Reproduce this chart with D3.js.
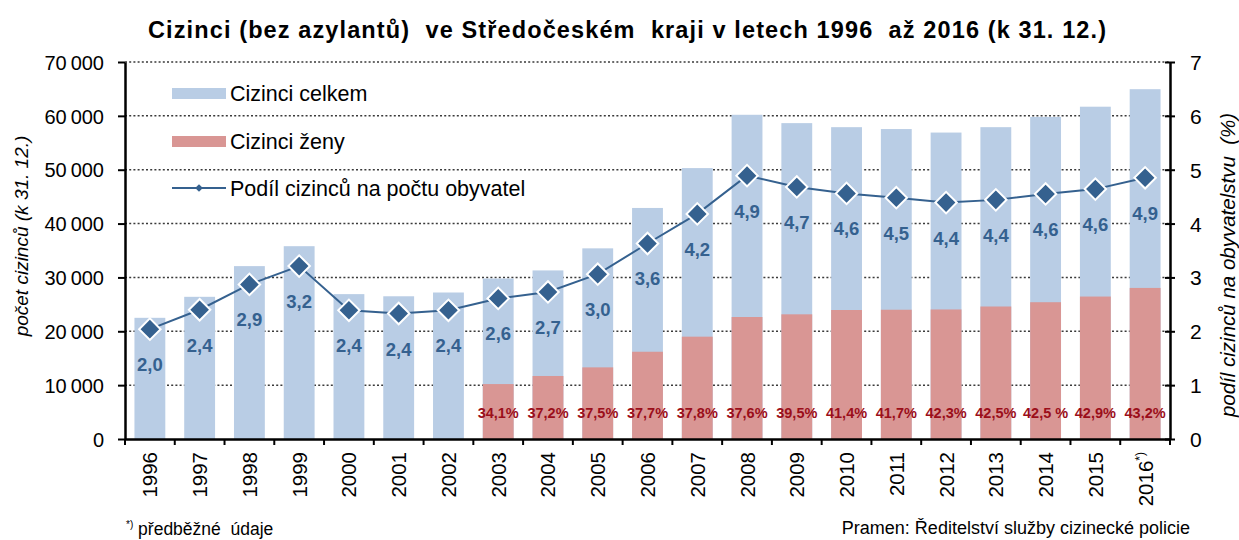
<!DOCTYPE html>
<html>
	<head>
		<meta charset="utf-8">
		<title>Cizinci ve Středočeském kraji</title>
		<script src="https://cdn.jsdelivr.net/npm/d3@7"></script>
		<style>
			body { margin: 0; background: #fff; }
			text { font-family: "Liberation Sans", Arial, sans-serif; white-space: pre; }
		</style>
	</head>
	<body>
		<div id='viz'></div>
		<script>
			var width = 1239,
				height = 540;
			// data
			var years = ['1996','1997','1998','1999','2000','2001','2002','2003','2004','2005','2006',
				'2007','2008','2009','2010','2011','2012','2013','2014','2015','2016'];
			var total = [22500, 26400, 32100, 35800, 26900, 26500, 27200, 29800, 31300, 35400, 42900,
				50300, 60200, 58650, 57900, 57550, 56900, 57900, 59800, 61700, 64950];
			var women = [null, null, null, null, null, null, null, 10200, 11700, 13300, 16200,
				19000, 22650, 23150, 23950, 24000, 24050, 24600, 25400, 26450, 28050];
			var womenPct = ['', '', '', '', '', '', '', '34,1%', '37,2%', '37,5%', '37,7%',
				'37,8%', '37,6%', '39,5%', '41,4%', '41,7%', '42,3%', '42,5%', '42,5 %', '42,9%', '43,2%'];
			var share = [2.04, 2.40, 2.87, 3.21, 2.39, 2.33, 2.39, 2.61, 2.73, 3.06, 3.63,
				4.18, 4.89, 4.68, 4.56, 4.48, 4.39, 4.44, 4.55, 4.64, 4.85];
			var shareLabels = ['2,0','2,4','2,9','3,2','2,4','2,4','2,4','2,6','2,7','3,0','3,6',
				'4,2','4,9','4,7','4,6','4,5','4,4','4,4','4,6','4,6','4,9'];
			var leftTicks = [0, 10000, 20000, 30000, 40000, 50000, 60000, 70000];
			var rightTicks = [0, 1, 2, 3, 4, 5, 6, 7];

			var blue = '#B9CDE5', red = '#D99694', lineCol = '#35618F', pctCol = '#9B0E1A';
			var m = {left: 125, right: 1170, top: 62, bottom: 439};

			var svg = d3.select('#viz').append('svg')
				.attr('width', width).attr('height', height);

			var x = d3.scaleBand().domain(years).range([m.left, m.right]).paddingInner(0.38).paddingOuter(0.19);
			var y = d3.scaleLinear().domain([0, 70000]).range([m.bottom, m.top]);
			var y2 = d3.scaleLinear().domain([0, 7]).range([m.bottom, m.top]);
			var fmt = function(v){ return v === 0 ? '0' : d3.format(',')(v).replace(',', '\u2009'); };

			// gridlines
			svg.append('g').selectAll('line')
				.data(leftTicks.slice(1))
				.join('line')
				.attr('x1', m.left).attr('x2', m.right)
				.attr('y1', d=>y(d)).attr('y2', d=>y(d))
				.attr('stroke', '#3a3a3a').attr('stroke-width', 1.5)
				.attr('stroke-dasharray', '2,2.2');

			// bars
			svg.append('g').selectAll('rect')
				.data(years)
				.join('rect')
				.attr('x', d=>x(d)).attr('width', x.bandwidth())
				.attr('y', (d,i)=>y(total[i])).attr('height', (d,i)=>y(0)-y(total[i]))
				.attr('fill', blue);
			svg.append('g').selectAll('rect')
				.data(years.filter((d,i)=>women[i] != null))
				.join('rect')
				.attr('x', d=>x(d)).attr('width', x.bandwidth())
				.attr('y', d=>y(women[years.indexOf(d)]))
				.attr('height', d=>y(0)-y(women[years.indexOf(d)]))
				.attr('fill', red);

			// percentage of women
			svg.append('g').selectAll('text')
				.data(years)
				.join('text')
				.attr('x', d=>x(d)+x.bandwidth()/2).attr('y', 418)
				.attr('text-anchor', 'middle')
				.attr('font-size', 14.5).attr('font-weight', 'bold')
				.attr('fill', pctCol)
				.text((d,i)=>womenPct[i]);

			// axes
			var xAxis = svg.append('g')
				.attr('transform', `translate(0,${m.bottom})`)
				.call(d3.axisBottom(x).tickSize(0).tickFormat(''));
			xAxis.select('.domain').attr('stroke', '#000').attr('stroke-width', 2.5);
			svg.append('g').selectAll('line')
				.data(d3.range(years.length + 1))
				.join('line')
				.attr('x1', i=>m.left + i*x.step()).attr('x2', i=>m.left + i*x.step())
				.attr('y1', m.bottom).attr('y2', m.bottom + 6)
				.attr('stroke', '#000').attr('stroke-width', 2);

			var yAxis = svg.append('g')
				.attr('transform', `translate(${m.left},0)`)
				.call(d3.axisLeft(y).tickValues(leftTicks).tickFormat(fmt).tickSize(7).tickSizeOuter(0));
			yAxis.select('.domain').attr('stroke', '#000').attr('stroke-width', 2.5);
			yAxis.selectAll('.tick line').attr('stroke', '#000').attr('stroke-width', 2);
			yAxis.selectAll('.tick text').attr('font-size', 20).attr('fill', '#000')
				.attr('font-family', '"Liberation Sans", Arial, sans-serif').attr('x', -21).attr('dy', '0.36em');

			var y2Axis = svg.append('g')
				.attr('transform', `translate(${m.right},0)`)
				.call(d3.axisRight(y2).tickValues(rightTicks).tickFormat(d3.format('d')).tickSize(5).tickSizeOuter(0));
			y2Axis.select('.domain').attr('stroke', '#000').attr('stroke-width', 2.5);
			y2Axis.selectAll('.tick line').attr('stroke', '#000').attr('stroke-width', 2).attr('x1', -5);
			y2Axis.selectAll('.tick text').attr('font-size', 21).attr('fill', '#000')
				.attr('font-family', '"Liberation Sans", Arial, sans-serif').attr('x', 20).attr('dy', '0.36em');

			// year labels
			var yl = svg.append('g').selectAll('text')
				.data(years)
				.join('text')
				.attr('transform', d=>`translate(${x(d)+x.bandwidth()/2+7.5},452) rotate(-90)`)
				.attr('text-anchor', 'end')
				.attr('font-size', 20.5).attr('fill', '#000');
			yl.append('tspan').text(d=>d);
			yl.filter(d=>d === '2016').append('tspan')
				.attr('font-size', 12).attr('dy', -9).text('*)');

			// share line
			var line = d3.line().x((d,i)=>x(years[i])+x.bandwidth()/2).y(d=>y2(d));
			svg.append('path').datum(share)
				.attr('d', line).attr('fill', 'none')
				.attr('stroke', lineCol).attr('stroke-width', 2);
			svg.append('g').selectAll('path')
				.data(share)
				.join('path')
				.attr('d', d3.symbol().type(d3.symbolSquare).size(230))
				.attr('transform', (d,i)=>`translate(${x(years[i])+x.bandwidth()/2},${y2(d)}) rotate(45)`)
				.attr('fill', lineCol).attr('stroke', '#fff').attr('stroke-width', 2);
			svg.append('g').selectAll('text')
				.data(share)
				.join('text')
				.attr('x', (d,i)=>x(years[i])+x.bandwidth()/2)
				.attr('y', d=>y2(d)+42)
				.attr('text-anchor', 'middle')
				.attr('font-size', 18.5).attr('font-weight', 'bold')
				.attr('fill', lineCol)
				.text((d,i)=>shareLabels[i]);

			// legend
			var lg = svg.append('g').attr('font-size', 21.5).attr('fill', '#000');
			lg.append('rect').attr('x', 172).attr('y', 88).attr('width', 54).attr('height', 11).attr('fill', blue);
			lg.append('text').attr('x', 230).attr('y', 101).text('Cizinci celkem');
			lg.append('rect').attr('x', 172).attr('y', 136).attr('width', 54).attr('height', 11).attr('fill', red);
			lg.append('text').attr('x', 230).attr('y', 149).text('Cizinci ženy');
			lg.append('line').attr('x1', 172).attr('x2', 226).attr('y1', 188).attr('y2', 188)
				.attr('stroke', lineCol).attr('stroke-width', 2);
			lg.append('path').attr('transform', 'translate(199,188) rotate(45)')
				.attr('d', d3.symbol().type(d3.symbolSquare).size(30)).attr('fill', lineCol);
			lg.append('text').attr('x', 230).attr('y', 196).text('Podíl cizinců na počtu obyvatel');

			// titles
			svg.append('text').attr('x', 627).attr('y', 38)
				.attr('text-anchor', 'middle').attr('font-size', 23.5).attr('font-weight', 'bold')
				.attr('textLength', 958).attr('lengthAdjust', 'spacing')
				.text('Cizinci (bez azylantů)  ve Středočeském  kraji v letech 1996  až 2016 (k 31. 12.)');
			svg.append('text').attr('transform', 'translate(28,236) rotate(-90)')
				.attr('text-anchor', 'middle').attr('font-size', 19).attr('font-style', 'italic')
				.text('počet cizinců (k 31. 12.)');
			svg.append('text').attr('transform', 'translate(1235,265) rotate(-90)')
				.attr('text-anchor', 'middle').attr('font-size', 20.5).attr('font-style', 'italic')
				.text('podíl cizinců na obyvatelstvu  (%)');

			// footer
			var fn = svg.append('text').attr('x', 126).attr('y', 535).attr('font-size', 17.5);
			fn.append('tspan').attr('font-size', 10).attr('dy', -7).text('*)');
			fn.append('tspan').attr('dy', 7).text(' předběžné  údaje');
			svg.append('text').attr('x', 1190).attr('y', 534).attr('text-anchor', 'end')
				.attr('font-size', 18).text('Pramen: Ředitelství služby cizinecké policie');
		</script>
	</body>
</html>
